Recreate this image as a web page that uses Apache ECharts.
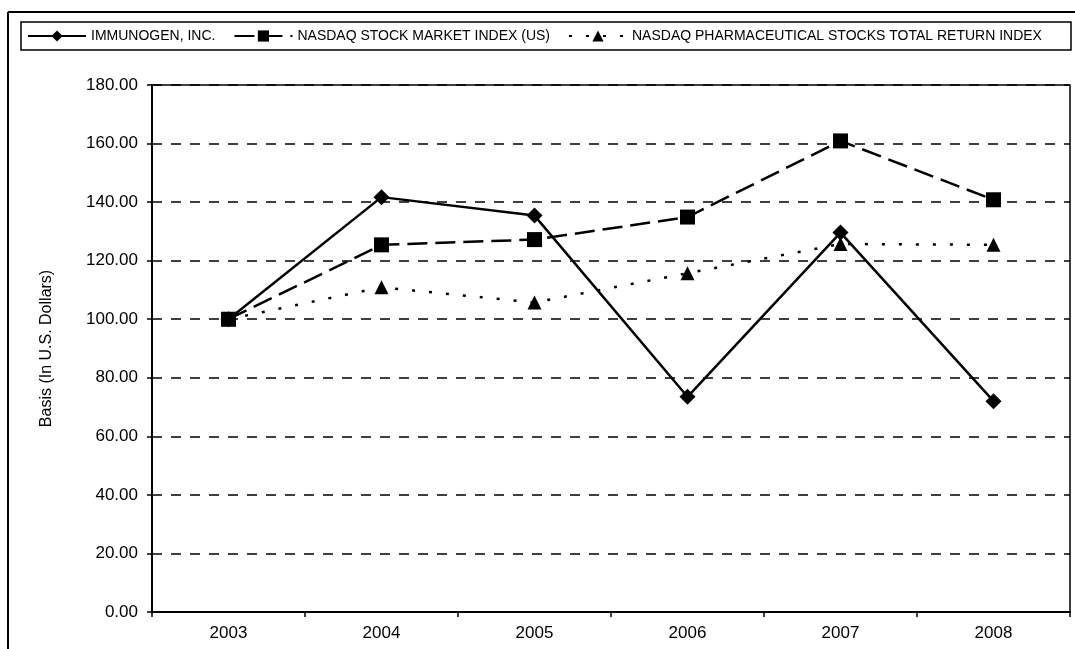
<!DOCTYPE html>
<html>
<head>
<meta charset="utf-8">
<script src="https://cdn.jsdelivr.net/npm/echarts@6/dist/echarts.min.js"></script>
<style>
  html, body { margin: 0; padding: 0; background: #fff; }
  #main { width: 1075px; height: 649px; }
</style>
</head>
<body>
<div id="main"></div>
<script>
var years = ['2003', '2004', '2005', '2006', '2007', '2008'];
var immunogen = [100, 141.7, 135.4, 73.5, 129.6, 72.0];
var nasdaq = [100, 125.4, 127.2, 134.9, 160.9, 140.8];
var pharma = [100, 110.9, 105.7, 115.7, 125.7, 125.4];
var seriesNames = [
    'IMMUNOGEN, INC.',
    'NASDAQ STOCK MARKET INDEX (US)',
    'NASDAQ PHARMACEUTICAL STOCKS TOTAL RETURN INDEX'
];

var font = '"Liberation Sans", Arial, Helvetica, sans-serif';

var myChart = echarts.init(document.getElementById('main'));

var option = {
    backgroundColor: '#fff',
    animation: false,
    textStyle: { fontFamily: font, color: '#000' },
    graphic: [
        // outer frame, only top and left edges are in the picture
        { type: 'line', shape: { x1: 8, y1: 12, x2: 1075, y2: 12 }, style: { stroke: '#000', lineWidth: 2 } },
        { type: 'line', shape: { x1: 8, y1: 12, x2: 8, y2: 649 }, style: { stroke: '#000', lineWidth: 2 } },
        // legend box
        { type: 'rect', shape: { x: 21, y: 22, width: 1050, height: 28 }, style: { fill: 'none', stroke: '#000', lineWidth: 1.5 } }
    ],
    legend: {
        data: seriesNames,
        left: 27,
        top: 29,
        padding: 0,
        itemWidth: 58,
        itemHeight: 14,
        itemGap: 18,
        textStyle: { fontSize: 14, color: '#000', fontFamily: font }
    },
    grid: {
        left: 152,
        right: 5,
        top: 85,
        bottom: 37,
        show: true,
        borderColor: '#000',
        borderWidth: 1.5
    },
    xAxis: {
        type: 'category',
        data: years,
        axisLine: { lineStyle: { color: '#000', width: 2 } },
        axisTick: { show: true, length: 5, lineStyle: { color: '#000', width: 1.5 } },
        axisLabel: { fontSize: 17, color: '#000', margin: 13 }
    },
    yAxis: {
        type: 'value',
        min: 0,
        max: 180,
        interval: 20,
        name: 'Basis (In U.S. Dollars)',
        nameLocation: 'middle',
        nameGap: 97,
        nameTextStyle: { fontSize: 16, color: '#000' },
        axisLine: { show: true, lineStyle: { color: '#000', width: 2 } },
        axisTick: { show: true, length: 5, lineStyle: { color: '#000', width: 1.5 } },
        axisLabel: {
            fontSize: 17,
            color: '#000',
            margin: 14,
            formatter: function (v) { return v.toFixed(2); }
        },
        splitLine: { show: true, lineStyle: { color: '#000', width: 1.5, type: [10, 9] } }
    },
    series: [
        {
            name: seriesNames[0],
            type: 'line',
            data: immunogen,
            symbol: 'diamond',
            symbolSize: 16,
            itemStyle: { color: '#000' },
            lineStyle: { color: '#000', width: 2.5, type: 'solid' },
            z: 3
        },
        {
            name: seriesNames[1],
            type: 'line',
            data: nasdaq,
            symbol: 'rect',
            symbolSize: 15,
            itemStyle: { color: '#000' },
            lineStyle: { color: '#000', width: 2.5, type: [20, 8] },
            z: 4
        },
        {
            name: seriesNames[2],
            type: 'line',
            data: pharma,
            symbol: 'triangle',
            symbolSize: 14,
            itemStyle: { color: '#000' },
            lineStyle: { color: '#000', width: 2.5, type: [3, 14] },
            z: 2
        }
    ]
};

myChart.setOption(option);
</script>
</body>
</html>
